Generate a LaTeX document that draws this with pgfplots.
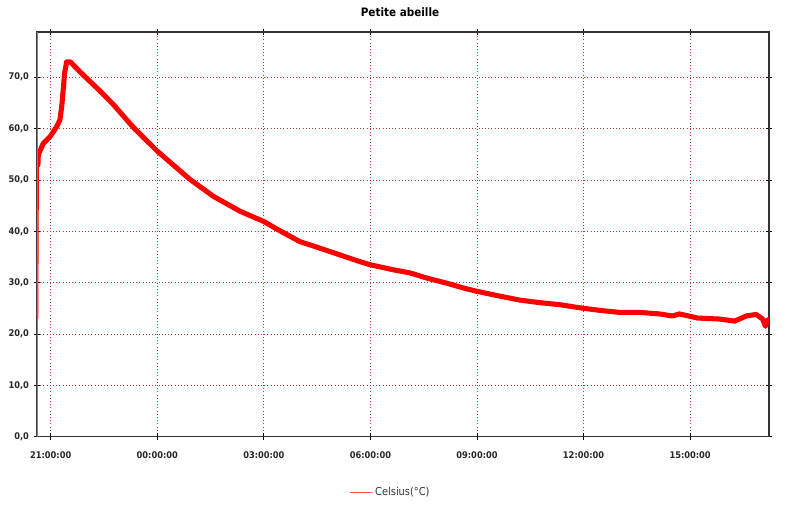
\documentclass[border=0pt]{standalone}
\usepackage{fontspec}
\usepackage{graphicx}
\usepackage{pgfplots}
\pgfplotsset{compat=1.18}
\setmainfont{DejaVu Sans Condensed}
\definecolor{gridred}{RGB}{190,50,50}
\definecolor{legred}{RGB}{255,90,90}
\begin{document}
\begin{tikzpicture}
\useasboundingbox (-27.75pt,-50.5pt) rectangle (572.25pt,327.5pt);
\begin{axis}[
  at={(0pt,0pt)}, anchor=south west,
  scale only axis, width=549pt, height=303.5pt,
  xmin=-0.386, xmax=20.22, ymin=0, ymax=78.8,
  xtick={0,3,6,9,12,15,18},
  xticklabels={21:00:00,00:00:00,03:00:00,06:00:00,09:00:00,12:00:00,15:00:00},
  ytick={0,10,20,30,40,50,60,70},
  /pgf/number format/assume math mode=true,
  /pgf/number format/use comma,
  /pgf/number format/fixed,
  /pgf/number format/fixed zerofill,
  /pgf/number format/precision=1,
  tick label style={font=\bfseries\fontsize{6.9}{7.5}\selectfont, text=black!85},
  xticklabel style={yshift=-5pt},
  tick align=center, major tick length=5pt,
  tick style={black, line width=0.6pt},
  grid=major,
  major grid style={gridred, dotted, line width=0.6pt},
  axis line style={black!80, line width=1pt},
  legend style={at={(axis description cs:0.4836,-0.1367)}, anchor=center, draw=none, fill=none,
    font=\fontsize{8.2}{9}\selectfont, text=black!80},
  legend cell align=left,
]
\addplot[red, line width=1.6pt, forget plot] coordinates {
(-0.38,23.0) (-0.38,23.4) (-0.37,40.0) (-0.36,52.9)
};
\addplot[red, line width=3.8pt, line join=round, line cap=round,
  legend image code/.code={\draw[legred, line width=0.6pt] (0pt,0pt) -- (16.5pt,0pt);}]
coordinates {
(-0.36,52.9) (-0.35,54.9) (-0.21,57.1) (-0.02,58.4) (0.17,60.4) (0.26,61.7)
(0.31,64.3) (0.36,68.2) (0.39,70.8) (0.45,73.0) (0.55,73.0) (0.83,71.0)
(1.39,67.3) (1.76,64.7) (2.33,60.2) (3.00,55.6) (3.92,50.1) (4.58,46.8)
(5.33,43.9) (6.00,41.9) (6.45,40.1) (7.01,38.0) (7.58,36.7) (8.14,35.4)
(8.70,34.1) (8.98,33.5) (9.64,32.5) (10.11,31.9) (10.58,30.9) (11.14,29.9)
(11.70,28.8) (12.00,28.3) (12.55,27.5) (13.20,26.6) (13.76,26.1) (14.33,25.7)
(14.89,25.1) (15.45,24.6) (16.01,24.2) (16.57,24.2) (17.14,23.9) (17.50,23.5)
(17.70,23.9) (18.21,23.1) (18.83,22.9) (19.25,22.5) (19.58,23.5) (19.86,23.8)
(20.04,22.9) (20.12,21.5) (20.19,22.8) (20.25,22.8)
};
\addlegendentry{Celsius(°C)}
\draw[gray, line width=1.5pt] (rel axis cs:0,0) -- (rel axis cs:0,1);
\end{axis}
\node[font=\bfseries\fontsize{8.7}{10}\selectfont] at (272.25pt,318.5pt) {Petite abeille};
\end{tikzpicture}
\end{document}
